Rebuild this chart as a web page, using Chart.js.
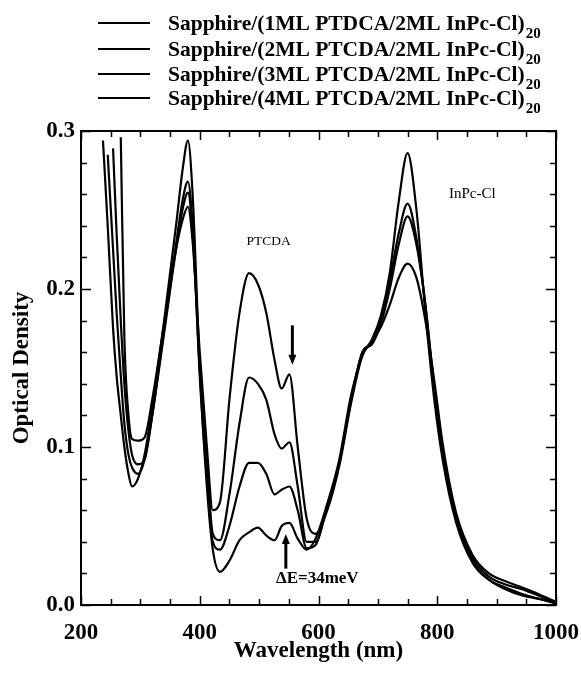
<!DOCTYPE html>
<html>
<head>
<meta charset="utf-8">
<script src="https://cdn.jsdelivr.net/npm/chart.js@4.4.1/dist/chart.umd.min.js"></script>
<style>
  html, body { margin: 0; padding: 0; background: #fff; }
  #wrap { width: 581px; height: 675px; }
</style>
</head>
<body>
<div id="wrap"><canvas id="spectra"></canvas></div>
<script>
// wavelength grid (nm) shared by all four spectra
const wavelengths = [237, 245, 254, 260, 267, 273, 280, 286, 296, 307, 320, 340, 360, 372, 380, 388, 400, 412, 422, 434,
  450, 467, 483, 498, 512, 526, 538, 551, 565, 580, 595, 613, 635, 655, 674, 690, 705, 720, 735, 750,
  765, 780, 795, 810, 832, 859, 887, 915, 943, 970, 1000];

const od1ML = [0.294, 0.240, 0.175, 0.145, 0.120, 0.100, 0.083, 0.075, 0.080, 0.095, 0.125, 0.180, 0.240, 0.278, 0.294, 0.260, 0.150, 0.075, 0.035, 0.021,
  0.028, 0.041, 0.046, 0.049, 0.044, 0.041, 0.050, 0.052, 0.042, 0.035, 0.042, 0.062, 0.092, 0.133, 0.158, 0.168, 0.183, 0.210, 0.255, 0.286,
  0.250, 0.185, 0.130, 0.090, 0.052, 0.027, 0.016, 0.011, 0.007, 0.004, 0.001];

const od2ML = [null, 0.285, 0.225, 0.185, 0.145, 0.115, 0.095, 0.087, 0.083, 0.092, 0.120, 0.175, 0.228, 0.258, 0.268, 0.240, 0.145, 0.080, 0.040, 0.035,
  0.050, 0.075, 0.090, 0.090, 0.083, 0.070, 0.073, 0.075, 0.060, 0.036, 0.038, 0.060, 0.090, 0.130, 0.160, 0.166, 0.180, 0.205, 0.235, 0.254,
  0.232, 0.190, 0.135, 0.093, 0.054, 0.028, 0.016, 0.010, 0.006, 0.004, 0.002];

const od3ML = [null, null, 0.289, 0.235, 0.180, 0.140, 0.110, 0.095, 0.089, 0.092, 0.120, 0.172, 0.225, 0.252, 0.261, 0.235, 0.150, 0.090, 0.045, 0.041,
  0.070, 0.115, 0.144, 0.140, 0.130, 0.108, 0.099, 0.103, 0.075, 0.040, 0.040, 0.060, 0.090, 0.130, 0.160, 0.165, 0.178, 0.200, 0.228, 0.246,
  0.228, 0.190, 0.138, 0.096, 0.056, 0.030, 0.018, 0.013, 0.010, 0.006, 0.002];

const od4ML = [null, null, null, null, 0.296, 0.170, 0.120, 0.105, 0.104, 0.106, 0.130, 0.178, 0.225, 0.245, 0.252, 0.230, 0.160, 0.100, 0.060, 0.065,
  0.130, 0.185, 0.210, 0.203, 0.185, 0.155, 0.137, 0.146, 0.100, 0.055, 0.045, 0.058, 0.088, 0.128, 0.158, 0.167, 0.176, 0.190, 0.207, 0.216,
  0.207, 0.180, 0.142, 0.100, 0.058, 0.032, 0.020, 0.015, 0.011, 0.007, 0.002];

const seriesNames = [
  'Sapphire/(1ML PTDCA/2ML InPc-Cl)',
  'Sapphire/(2ML PTCDA/2ML InPc-Cl)',
  'Sapphire/(3ML PTCDA/2ML InPc-Cl)',
  'Sapphire/(4ML PTCDA/2ML InPc-Cl)'
];
const xTicks = [200, 400, 600, 800, 1000];
const yTicks = [0.0, 0.1, 0.2, 0.3];

const SERIF = '"Liberation Serif", "DejaVu Serif", serif';

function toPoints(values) {
  const pts = [];
  wavelengths.forEach((w, i) => {
    if (values[i] !== null) pts.push({ x: w, y: values[i] });
  });
  return pts;
}

const allSeries = [od1ML, od2ML, od3ML, od4ML];

// frame, inward ticks, legend, labels and arrows
const decorations = {
  id: 'decorations',
  afterDraw(chart) {
    const ctx = chart.ctx;
    const area = chart.chartArea;
    const xs = chart.scales.x, ys = chart.scales.y;
    ctx.save();
    ctx.strokeStyle = '#000';
    ctx.fillStyle = '#000';

    // box
    ctx.lineWidth = 2;
    ctx.strokeRect(area.left, area.top, area.right - area.left, area.bottom - area.top);

    // x ticks (bottom + top)
    ctx.lineWidth = 1.5;
    for (let nm = 200; nm <= 1000; nm += 50) {
      const px = Math.round(xs.getPixelForValue(nm)) + 0.5;
      const len = nm % 200 === 0 ? 9 : 6;
      ctx.beginPath();
      ctx.moveTo(px, area.bottom); ctx.lineTo(px, area.bottom - len);
      ctx.moveTo(px, area.top); ctx.lineTo(px, area.top + len);
      ctx.stroke();
    }
    // y ticks (left + right)
    for (let k = 0; k <= 15; k++) {
      const v = k * 0.02;
      const py = Math.round(ys.getPixelForValue(v)) + 0.5;
      const len = k % 5 === 0 ? 10 : 6;
      ctx.beginPath();
      ctx.moveTo(area.left, py); ctx.lineTo(area.left + len, py);
      ctx.moveTo(area.right, py); ctx.lineTo(area.right - len, py);
      ctx.stroke();
    }

    // legend
    const rowY = [23, 49, 74, 98];
    seriesNames.forEach((name, i) => {
      ctx.lineWidth = 2;
      ctx.beginPath();
      ctx.moveTo(98, rowY[i]); ctx.lineTo(150, rowY[i]);
      ctx.stroke();
      ctx.font = 'bold 21.5px ' + SERIF;
      ctx.textBaseline = 'alphabetic';
      ctx.textAlign = 'left';
      ctx.fillText(name, 168, rowY[i] + 7);
      const w = ctx.measureText(name).width;
      ctx.font = 'bold 15px ' + SERIF;
      ctx.fillText('20', 168 + w + 1, rowY[i] + 15);
    });

    // annotations
    ctx.textAlign = 'center';
    ctx.textBaseline = 'middle';
    ctx.font = '13.5px ' + SERIF;
    ctx.fillText('PTCDA', xs.getPixelForValue(516), ys.getPixelForValue(0.23));
    ctx.font = '15px ' + SERIF;
    ctx.fillText('InPc-Cl', xs.getPixelForValue(859), ys.getPixelForValue(0.26));
    ctx.font = 'bold 17px ' + SERIF;
    ctx.fillText('\u0394E=34meV', xs.getPixelForValue(598), ys.getPixelForValue(0.017));

    // arrows
    function arrow(nm, vFrom, vTo) {
      const x = xs.getPixelForValue(nm);
      const y1 = ys.getPixelForValue(vFrom), y2 = ys.getPixelForValue(vTo);
      const dir = y2 > y1 ? 1 : -1;
      ctx.lineWidth = 3;
      ctx.beginPath();
      ctx.moveTo(x, y1); ctx.lineTo(x, y2 - dir * 6);
      ctx.stroke();
      ctx.beginPath();
      ctx.moveTo(x, y2);
      ctx.lineTo(x - 4, y2 - dir * 10);
      ctx.lineTo(x + 4, y2 - dir * 10);
      ctx.closePath();
      ctx.fill();
    }
    arrow(556, 0.177, 0.152);
    arrow(545, 0.023, 0.045);

    ctx.restore();
  }
};

new Chart(document.getElementById('spectra'), {
  type: 'line',
  data: {
    datasets: allSeries.map((s, i) => ({
      label: seriesNames[i],
      data: toPoints(s),
      borderColor: '#000',
      borderWidth: 2.2,
      pointRadius: 0,
      fill: false,
      cubicInterpolationMode: 'monotone'
    }))
  },
  options: {
    responsive: true,
    maintainAspectRatio: false,
    animation: false,
    layout: { padding: { top: 131, right: 25, left: 0, bottom: 0 } },
    plugins: { legend: { display: false }, tooltip: { enabled: false } },
    scales: {
      x: {
        type: 'linear',
        min: 200, max: 1000,
        afterFit: (s) => { s.height = 70; s.paddingLeft = 0; s.paddingRight = 0; },
        afterBuildTicks: (s) => { s.ticks = xTicks.map(v => ({ value: v })); },
        grid: { display: false, drawTicks: false },
        border: { display: false },
        ticks: {
          padding: 14,
          maxRotation: 0,
          color: '#000',
          font: { family: SERIF, size: 23, weight: 'bold' },
          callback: (v) => String(v)
        },
        title: {
          display: true,
          text: 'Wavelength (nm)',
          color: '#000',
          font: { family: SERIF, size: 23, weight: 'bold' },
          padding: { top: 0, bottom: 10 }
        }
      },
      y: {
        min: 0, max: 0.3,
        afterFit: (s) => { s.width = 81; s.paddingTop = 0; s.paddingBottom = 0; },
        afterBuildTicks: (s) => { s.ticks = yTicks.map(v => ({ value: v })); },
        grid: { display: false, drawTicks: false },
        border: { display: false },
        ticks: {
          padding: 6,
          color: '#000',
          font: { family: SERIF, size: 23, weight: 'bold' },
          callback: (v) => Number(v).toFixed(1)
        },
        title: {
          display: true,
          text: 'Optical Density',
          color: '#000',
          font: { family: SERIF, size: 23, weight: 'bold' },
          padding: { top: 8, bottom: 0 }
        }
      }
    }
  },
  plugins: [decorations]
});
</script>
</body>
</html>
